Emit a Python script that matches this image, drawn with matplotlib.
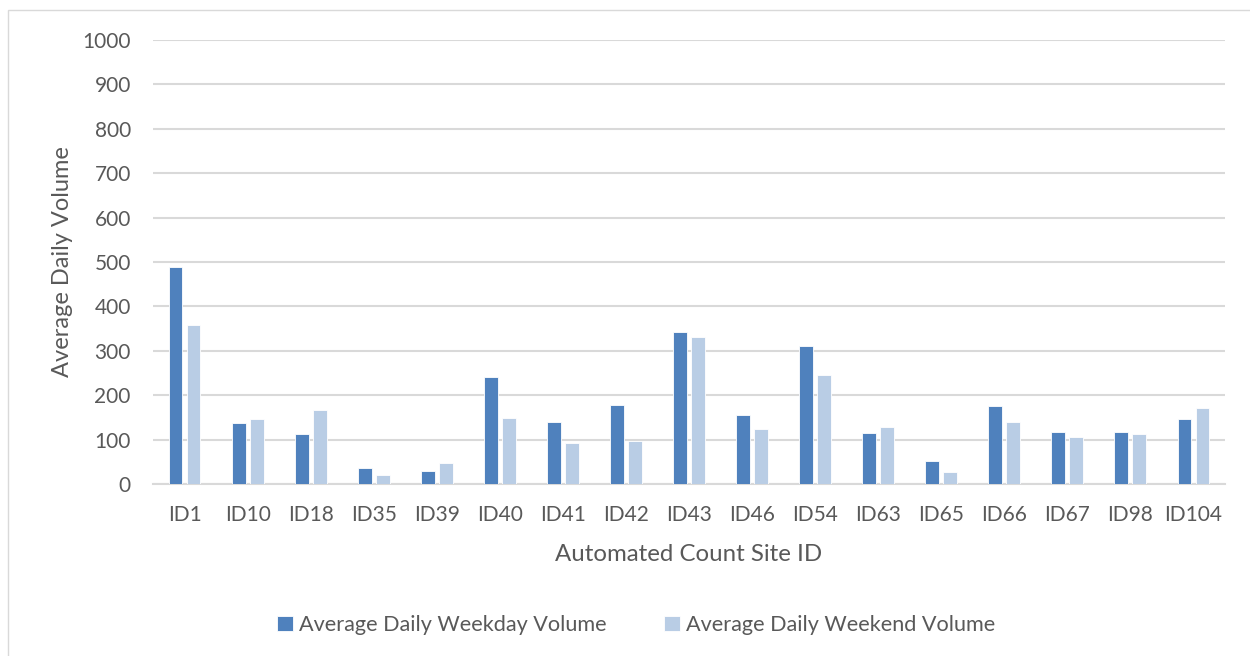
import numpy as np
import matplotlib
matplotlib.use("Agg")
import matplotlib.pyplot as plt
from matplotlib.patches import Rectangle

sites = ["ID1", "ID10", "ID18", "ID35", "ID39", "ID40", "ID41", "ID42", "ID43",
         "ID46", "ID54", "ID63", "ID65", "ID66", "ID67", "ID98", "ID104"]
weekday = [489, 137, 113, 37, 29, 242, 140, 177, 343, 156, 310, 115, 51, 175, 118, 117, 146]
weekend = [358, 146, 166, 20, 48, 148, 92, 97, 332, 125, 245, 128, 27, 140, 106, 113, 171]

plt.rcParams['font.family'] = ['Lato', 'DejaVu Sans']
txt = '#595959'
grid = '#D9D9D9'

fig = plt.figure(figsize=(12.5, 6.56), dpi=100)
# outer chart border
fig.patches.append(Rectangle((8/1250, -0.01), 1.02, 1 - 10/656 + 0.01,
                             transform=fig.transFigure, fill=False,
                             edgecolor=grid, lw=1))
ax = fig.add_axes([153/1250, 1 - 484/656, 1072/1250, 444/656])

x = np.arange(len(sites))
w = 0.22
ax.bar(x - 0.143, weekday, w, color='#4F81BD', edgecolor='white', lw=0.6,
       label='Average Daily Weekday Volume', zorder=3)
ax.bar(x + 0.143, weekend, w, color='#B9CDE5', edgecolor='white', lw=0.6,
       label='Average Daily Weekend Volume', zorder=3)

ax.set_xlim(-0.5, len(sites) - 0.5)
ax.set_ylim(0, 1000)
ax.set_yticks(np.arange(0, 1001, 100))
ax.set_xticks(x)
ax.set_xticklabels(sites)
ax.yaxis.grid(True, color=grid, lw=1.5, zorder=0)
ax.tick_params(length=0, labelsize=15, colors=txt)
ax.tick_params(axis='x', pad=15)
ax.tick_params(axis='y', pad=16)
for s in ['top', 'right', 'left']:
    ax.spines[s].set_visible(False)
ax.spines['bottom'].set_color(grid)
ax.spines['bottom'].set_linewidth(1.5)

ax.set_xlabel('Automated Count Site ID', fontsize=17.3, color=txt, labelpad=14)
ax.set_ylabel('Average Daily Volume', fontsize=17, color=txt, labelpad=7)

fig.legend(loc='center', bbox_to_anchor=(636/1250, 1 - 625/656), ncol=2,
           frameon=False, fontsize=15.6, labelcolor=txt, handlelength=0.75,
           handleheight=0.75, handletextpad=0.25, columnspacing=2.67)

fig.savefig('out.png', dpi=100)
